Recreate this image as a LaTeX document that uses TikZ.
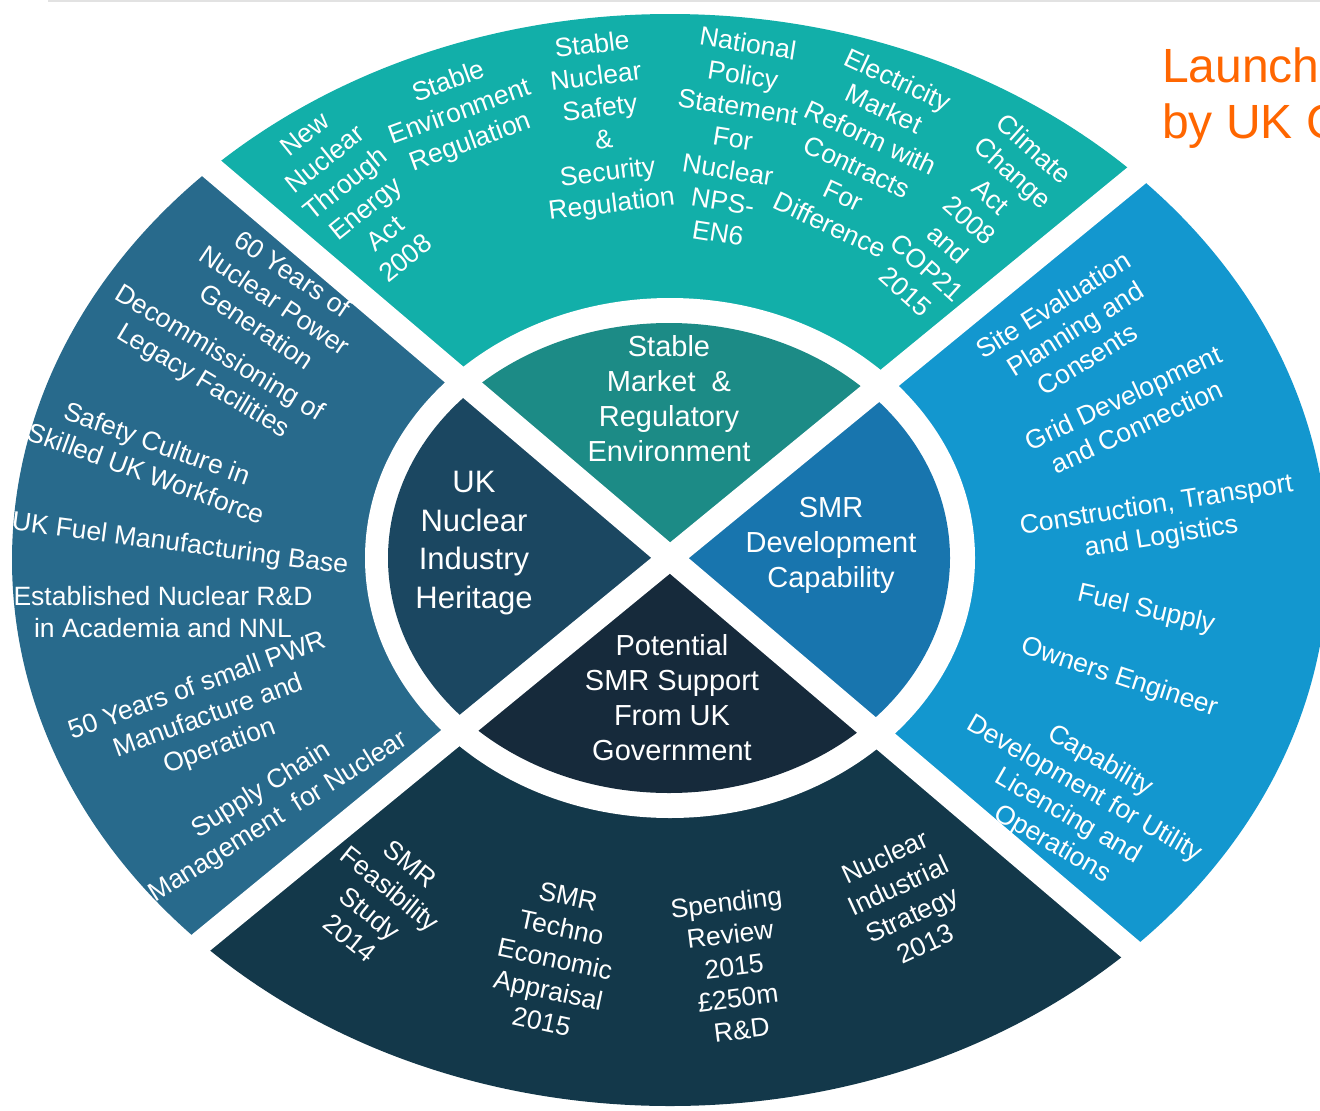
\documentclass[tikz,border=0pt]{standalone}
\usepackage{fontspec}
\setmainfont{Liberation Sans}
\definecolor{tealOut}{HTML}{12AFA9}
\definecolor{tealIn}{HTML}{1C8B86}
\definecolor{steelOut}{HTML}{286A8C}
\definecolor{steelIn}{HTML}{1B4761}
\definecolor{blueOut}{HTML}{1397CF}
\definecolor{blueIn}{HTML}{1875AE}
\definecolor{navyOut}{HTML}{13384A}
\definecolor{navyIn}{HTML}{162A3B}
\definecolor{titleOrange}{RGB}{255,102,0}
\definecolor{rule}{RGB}{226,226,226}
\begin{document}
\begin{tikzpicture}[x=1pt,y=-1pt,
  outertext/.style={text=white, align=center, inner sep=0pt,
    font=\fontsize{26.5}{32}\selectfont},
  innertext/.style={text=white, align=center, inner sep=0pt,
    font=\fontsize{29}{35}\selectfont},
  titletext/.style={text=titleOrange, anchor=base west, inner sep=0pt,
    font=\fontsize{48}{56}\selectfont}]
\useasboundingbox (0,0) rectangle (1320,1111);
\clip (0,0) rectangle (1320,1111);

% thin rule along the top edge
\draw[rule, line width=2pt] (48,1) -- (1320,1);

% centre of the wheel and the far ends of the two dividing diagonals
\coordinate (C) at (670,558);
\coordinate (NW) at (-130,-122);
\coordinate (SE) at (1470,1238);
\coordinate (NE) at (1470,-98);
\coordinate (SW) at (-130,1214);

% one wedge per quadrant: outer band, white ring, inner lobe
\foreach \wa/\wb/\co/\ci in {NW/NE/tealOut/tealIn, NE/SE/blueOut/blueIn,
                             SE/SW/navyOut/navyIn, SW/NW/steelOut/steelIn}{
  \begin{scope}
    \clip (C) -- (\wa) -- (\wb) -- cycle;
    \fill[\co] (670,560) ellipse [x radius=658, y radius=546];
    \fill[white] (670,558) ellipse [x radius=305, y radius=260];
    \fill[\ci] (669,558) ellipse [x radius=281, y radius=235];
  \end{scope}
}

% white diagonals separating the quadrants
\draw[white, line width=24pt] (NW) -- (SE);
\draw[white, line width=24pt] (NE) -- (SW);

% inner lobes
\node[innertext] (stable) at (669,399) {Stable\\Market\ \ \&\\Regulatory\\Environment};
\node[innertext, font=\fontsize{31}{38.5}\selectfont] (heritage) at (474,543) {UK\\Nuclear\\Industry\\Heritage};
\node[innertext] (smrdev) at (831,545) {SMR\\Development\\Capability};
\node[innertext] (support) at (672,698) {Potential\\SMR Support\\From UK\\Government};

% top band: regulation and policy
\node[outertext, rotate=39] (t1) at (355,196) {New\\Nuclear\\Through\\Energy\\Act\\2008};
\node[outertext, rotate=20] (t2) at (460,113) {Stable\\Environment\\Regulation};
\node[outertext, rotate=7] (t3) at (602,126) {Stable\\Nuclear\\Safety\\\&\\Security\\Regulation};
\node[outertext, rotate=-9] (t4) at (733,138) {National\\Policy\\Statement\\For\\Nuclear\\NPS-\\EN6};
\node[outertext, rotate=-25] (t5) at (864,152) {Electricity\\Market\\Reform with\\Contracts\\For\\Difference};
\node[outertext, rotate=-42] (t6) at (970,220) {Climate\\Change\\Act\\2008\\and\\COP21\\2015};

% left band: heritage
\node[outertext, rotate=-34] (l1) at (275,300) {60 Years of\\Nuclear Power\\Generation};
\node[outertext, rotate=-31] (l2) at (211,368) {Decommissioning of\\Legacy Facilities};
\node[outertext, rotate=-20] (l3) at (152,458) {Safety Culture in\\Skilled UK Workforce};
\node[outertext, rotate=-7.5] (l4) at (180,545) {UK Fuel Manufacturing Base};
\node[outertext] (l5) at (163,612) {Established Nuclear R\&D\\in Academia and NNL};
\node[outertext, rotate=20] (l6) at (209,717) {50 Years of small PWR\\Manufacture and\\Operation};
\node[outertext, rotate=32] (l7) at (270,804) {Supply Chain\\Management\ \ for Nuclear};

% right band: development capability
\node[outertext, rotate=32] (r1) at (1070,332) {Site Evaluation\hspace{20pt}\\\hspace{12pt}Planning and\\Consents};
\node[outertext, rotate=25] (r2) at (1130,412) {Grid Development\\and Connection};
\node[outertext, rotate=9] (r3) at (1159,522) {Construction, Transport\\and Logistics};
\node[outertext, rotate=-13] (r4) at (1146,610) {Fuel Supply};
\node[outertext, rotate=-18] (r5) at (1119,678) {Owners Engineer};
\node[outertext, rotate=-30] (r6) at (1076,803) {Capability\\Development for Utility\\Licencing and\\Operations};

% bottom band: government support
\node[outertext, rotate=-39] (b1) at (380,901) {SMR\\Feasibility\\Study\\2014};
\node[outertext, rotate=-12] (b2) at (555,959) {SMR\\Techno\\Economic\\Appraisal\\2015};
\node[outertext, rotate=7] (b3) at (734,966) {Spending\\Review\\2015\\£250m\\R\&D};
\node[outertext, rotate=25] (b4) at (905,900) {Nuclear\\Industrial\\Strategy\\2013};

% heading at the top right
\node[titletext] (head1) at (1162,82) {Launch};
\node[titletext] (head2) at (1162,138) {by UK G};
\end{tikzpicture}
\end{document}
